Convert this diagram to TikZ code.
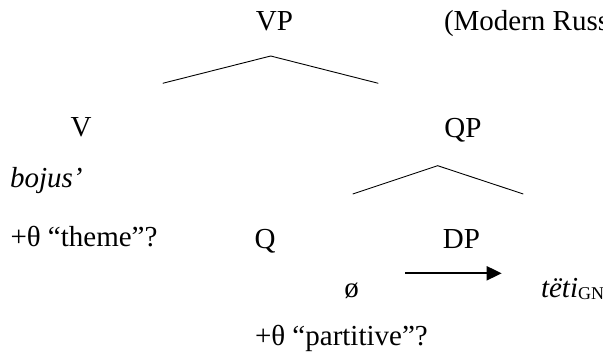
\documentclass[tikz,border=0pt]{standalone}
\usepackage{fontspec}
\setmainfont{Liberation Serif}
\usetikzlibrary{arrows.meta}
\tikzset{
  lbl/.style={inner sep=0pt, outer sep=0pt, font=\fontsize{29}{35}\selectfont},
  branch/.style={line width=0.9pt},
  derive/.style={line width=2pt, -{Triangle[length=15pt,width=14pt]}}
}
\begin{document}
\begin{tikzpicture}[x=1pt,y=-1pt]
\useasboundingbox (0,0) rectangle (603,359);
\clip (0,0) rectangle (603,359);
% labels
\node[lbl, anchor=base] (vp) at (274.5,30.7) {VP};
\node[lbl, anchor=base west] (lang) at (444,30.7) {(Modern Russian)};
\node[lbl, anchor=base] (v) at (81,136) {V};
\node[lbl, anchor=base] (qp) at (463,137.3) {QP};
\node[lbl, anchor=base west] (verb) at (10,187.3) {\itshape bojus’};
\node[lbl, anchor=base west] (theme) at (10.5,246.7) {+θ “theme”?};
\node[lbl, anchor=base] (q) at (265,248.3) {Q};
\node[lbl, anchor=base] (dp) at (461.5,248.3) {DP};
\node[lbl, anchor=base] (null) at (351.7,297.3) {ø};
\node[lbl, anchor=base west] (noun) at (541,297) {\itshape tëti\/\raisebox{-2pt}{\upshape\fontsize{18}{20}\selectfont GN}};
\node[lbl, anchor=base west] (part) at (255,345) {+θ “partitive”?};
% branches
\coordinate (vptop) at (270.7,56);
\coordinate (vpl) at (162.7,83.3);
\coordinate (vpr) at (378.3,83.3);
\draw[branch] (vpl) -- (vptop) -- (vpr);
\coordinate (qptop) at (437.7,165.7);
\coordinate (qpl) at (352.7,194);
\coordinate (qpr) at (523.3,194);
\draw[branch] (qpl) -- (qptop) -- (qpr);
% arrow
\coordinate (arrs) at (405,273.3);
\coordinate (arre) at (501.7,273.3);
\draw[derive] (arrs) -- (arre);
\end{tikzpicture}
\end{document}
